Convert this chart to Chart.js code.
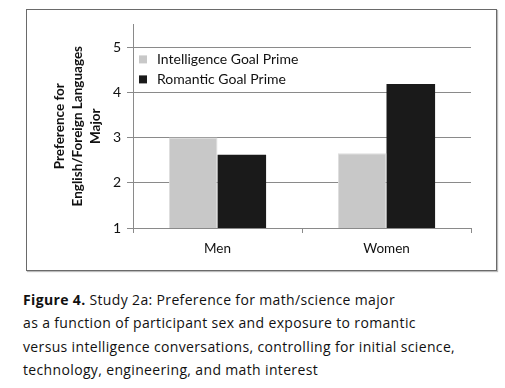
<!DOCTYPE html>
<html>
<head>
<meta charset="utf-8">
<script src="https://cdn.jsdelivr.net/npm/chart.js@4/dist/chart.umd.min.js"></script>
<style>
  body { margin: 0; background: #fff; width: 505px; height: 388px; position: relative; overflow: hidden; }
  #boite { position: absolute; left: 26px; top: 9px; width: 469px; height: 260px; border: 1px solid #6a6a6a; box-shadow: 1px 1px 1px #bbb; }
  #legende { position: absolute; left: 23px; top: 288px; font-family: "Comic Sans MS", "Open Sans", sans-serif; font-size: 14px; letter-spacing: 0.35px; line-height: 23.3px; color: #111; white-space: nowrap; }
  #legende b { font-weight: bold; }
</style>
</head>
<body>
<div id="boite"><canvas id="graphe" width="469" height="260"></canvas></div>
<div id="legende">
  <b>Figure 4.</b> Study 2a: Preference for math/science major<br>
  as a function of participant sex and exposure to romantic<br>
  versus intelligence conversations, controlling for initial science,<br>
  technology, engineering, and math interest
</div>
<script>
// Données
var categories = ['Men', 'Women'];
var serieIntelligence = [3.0, 2.65];
var serieRomantique = [2.62, 4.18];
var nomsSeries = ['Intelligence Goal Prime', 'Romantic Goal Prime'];
var titreAxeY = ['Preference for', 'English/Foreign Languages', 'Major'];

var police = 'Lato, "Open Sans", sans-serif';
var gris = '#8a8a8a';

// Légende dessinée à l'intérieur de la zone du graphe
var legendeInterne = {
  id: 'legendeInterne',
  afterDatasetsDraw: function(chart) {
    var ctx = chart.ctx;
    var zone = chart.chartArea;
    ctx.save();
    ctx.font = '14px ' + police;
    ctx.textBaseline = 'middle';
    chart.data.datasets.forEach(function(ds, i) {
      var y = zone.top + 35 + i * 20;
      ctx.fillStyle = ds.backgroundColor;
      ctx.fillRect(zone.left + 6, y - 4, 8, 8);
      ctx.fillStyle = '#111';
      ctx.fillText(ds.label, zone.left + 24, y);
    });
    ctx.restore();
  }
};

var graphe = new Chart(document.getElementById('graphe').getContext('2d'), {
  type: 'bar',
  data: {
    labels: categories,
    datasets: [{
      label: nomsSeries[0],
      data: serieIntelligence,
      backgroundColor: '#c8c8c8',
      borderColor: '#dedede',
      borderWidth: 1
    }, {
      label: nomsSeries[1],
      data: serieRomantique,
      backgroundColor: '#1a1a1a',
      borderColor: '#1a1a1a',
      borderWidth: 0
    }]
  },
  options: {
    responsive: false,
    animation: false,
    layout: { padding: { top: 12, right: 25, left: 0, bottom: 0 } },
    plugins: { legend: { display: false }, tooltip: { enabled: false } },
    datasets: { bar: { categoryPercentage: 0.575, barPercentage: 1 } },
    scales: {
      x: {
        grid: { drawOnChartArea: false, drawTicks: true, tickLength: 5, color: gris, offset: true },
        border: { color: gris, width: 1 },
        ticks: { color: '#111', font: { family: police, size: 13.5 }, padding: 8 },
        afterFit: function(scale) { scale.height = 42; }
      },
      y: {
        min: 1,
        max: 5.5,
        afterBuildTicks: function(scale) {
          scale.ticks = scale.ticks.filter(function(t) { return Number.isInteger(t.value); });
        },
        afterFit: function(scale) { scale.width = 106; },
        ticks: { stepSize: 1, color: '#111', font: { family: police, size: 14 }, padding: 6 },
        grid: { color: gris, tickLength: 6 },
        border: { color: gris, width: 1 },
        title: {
          display: true,
          text: titreAxeY,
          color: '#111',
          font: { family: police, size: 13.5, weight: 'bold', lineHeight: 1.333 },
          padding: { top: 24, bottom: 0 }
        }
      }
    }
  },
  plugins: [legendeInterne]
});
</script>
</body>
</html>
